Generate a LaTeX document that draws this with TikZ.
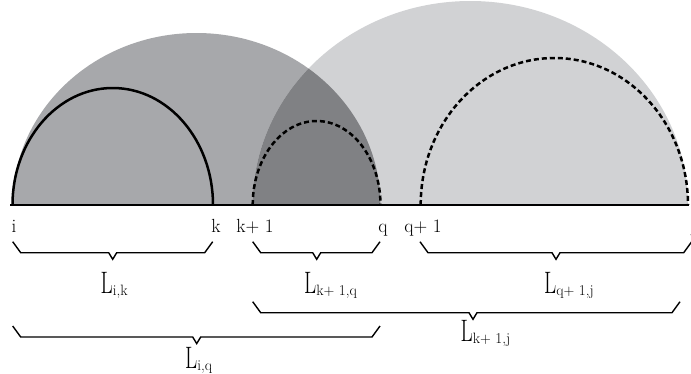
\documentclass[tikz,border=0pt]{standalone}
\usepackage{graphicx}
\usetikzlibrary{positioning}
\definecolor{darkarc}{HTML}{A7A8AB}
\definecolor{lightarc}{HTML}{D1D2D4}
\definecolor{overlaparc}{HTML}{808184}
\tikzset{
    baseline rule/.style = {line width=2.8pt},
    solidarc/.style = {line width=2.5pt},
    dasharc/.style = {line width=2.5pt, dash pattern=on 5pt off 3pt},
    bracket/.style = {line width=1.4pt, line join=miter},
    point/.style = {font=\fontsize{19}{19}\selectfont, anchor=base, inner sep=0pt},
    span/.style = {anchor=base west, inner sep=0pt}
}
% L with a subscript, as the figure sets it
\newcommand{\Lsub}[1]{\scalebox{0.68}[1]{\fontsize{31}{31}\selectfont L}\raisebox{-2pt}{\fontsize{15}{15}\selectfont #1}}
% brace: left x, right x, top y, tip x
\newcommand{\spanbrace}[4]{\draw[bracket] (#1,#3) -- (#1+8,#3-11) -- (#4-4,#3-11) -- (#4,#3-17.6) -- (#4+4,#3-11) -- (#2-8,#3-11) -- (#2,#3);}

\begin{document}
\begin{tikzpicture}[x=1pt, y=1pt]
    \useasboundingbox (0,-168) rectangle (691,205);

    \coordinate (i) at (12.5,0);
    \coordinate (k) at (213,0);
    \coordinate (k1) at (252.7,0);
    \coordinate (q) at (380.5,0);
    \coordinate (q1) at (420.7,0);
    \coordinate (j) at (688,0);

    % shaded spans
    \fill[darkarc] (i) arc[start angle=180, end angle=0, x radius=184, y radius=172] -- cycle;
    \fill[lightarc] (k1) arc[start angle=180, end angle=0, x radius=217.65, y radius=204] -- cycle;
    \begin{scope}
        \clip (i) arc[start angle=180, end angle=0, x radius=184, y radius=172] -- cycle;
        \fill[overlaparc] (k1) arc[start angle=180, end angle=0, x radius=217.65, y radius=204] -- cycle;
    \end{scope}

    % sub spans
    \draw[solidarc] (i) arc[start angle=180, end angle=0, x radius=100.25, y radius=117];
    \draw[dasharc] (k1) arc[start angle=180, end angle=0, x radius=63.9, y radius=84];
    \draw[dasharc] (q1) arc[start angle=180, end angle=0, x radius=133.65, y radius=147];
    \draw[baseline rule] ([xshift=-2.5pt]i) -- ([xshift=1pt]j);

    % indices
    \node[point] (ti) at (14,-27) {i};
    \node[point] (tk) at (216,-27) {k};
    \node[point] (tk1) at (255,-27) {k+ 1};
    \node[point] (tq) at (383,-27) {q};
    \node[point] (tq1) at (423,-27) {q+ 1};
    \node[point] (tj) at (694,-27) {j};

    % braces
    \spanbrace{12.7}{212.7}{-36.7}{112.7}
    \spanbrace{252.7}{380}{-36.7}{316.7}
    \spanbrace{420}{691.7}{-36.7}{556}
    \spanbrace{252.7}{680}{-96.7}{473}
    \spanbrace{12.7}{380}{-121}{196.7}

    \node[span] (Lik) at (100.5,-88) {\Lsub{i,k}};
    \node[span] (Lk1q) at (304,-88) {\Lsub{k+ 1,q}};
    \node[span] (Lq1j) at (544,-88) {\Lsub{q+ 1,j}};
    \node[span] (Lk1j) at (460.5,-136.5) {\Lsub{k+ 1,j}};
    \node[span] (Liq) at (185,-163) {\Lsub{i,q}};
\end{tikzpicture}
\end{document}
